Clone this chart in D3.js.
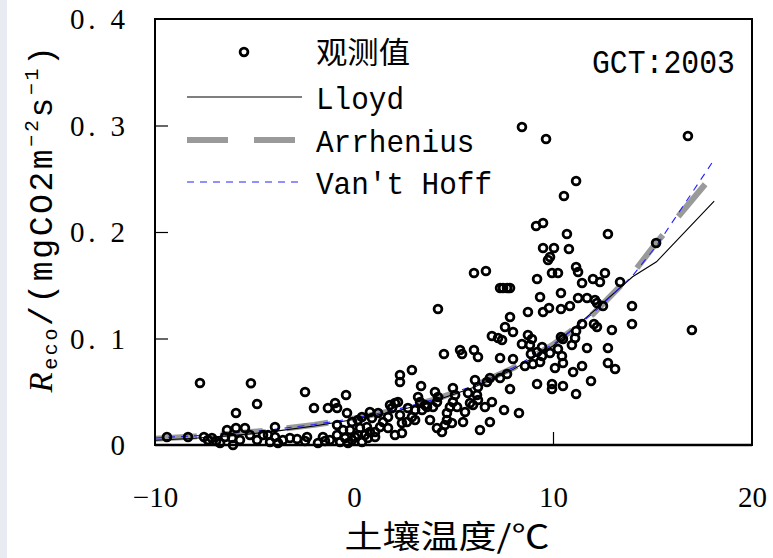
<!DOCTYPE html>
<html>
<head>
<meta charset="utf-8">
<script src="https://cdn.jsdelivr.net/npm/d3@7"></script>
<style>
  html, body { margin: 0; padding: 0; background: #fff; }
  svg { display: block; }
</style>
</head>
<body>
<div id="chart"></div>
<script>
// Soil temperature (°C) and observed ecosystem respiration, GCT 2003
const obsT = [
  -9.40, -8.34, -7.74, -7.54, -7.34, -7.14, -6.93, -6.73, -6.48, -6.38, -6.13, -6.08, -5.93, -5.93, -5.73, -5.48, -5.23, -5.18, -4.87, -4.87, -4.57,
  -4.32, -4.22, -3.97, -3.97, -3.82, -3.57, -3.22, -2.86, -2.46, -2.46, -2.36, -2.01, -1.81, -1.56, -1.46, -1.31, -1.21, -0.95, -0.85, -0.85, -0.85,
  -0.70, -0.55, -0.45, -0.40, -0.35, -0.30, -0.20, -0.10, -0.10, 0.05, 0.20, 0.20, 0.30, 0.40, 0.40, 0.55, 0.65, 0.70, 0.80, 0.80, 0.90,
  1.06, 1.06, 1.21, 1.31, 1.46, 1.71, 1.71, 1.81, 1.91, 2.06, 2.06, 2.21, 2.31, 2.31, 2.31, 2.41, 2.41, 2.66, 2.71, 2.91, 2.91, 3.07, 3.07,
  3.22, 3.32, 3.37, 3.42, 3.57, 3.67, 3.82, 3.97, 4.07, 4.17, 4.17, 4.22, 4.42, 4.57, 4.67, 4.67, 4.82, 4.92, 4.97, 4.97, 5.08, 5.18, 5.48,
  5.58, 5.73, 5.83, 5.98, 6.08, 6.18, 6.23, 6.23, 6.33, 6.58, 6.68, 6.83, 6.83, 6.93,
  4.22, 4.52, 5.33, 5.43, 6.03, 6.23, 6.03, 6.63, 6.93, 7.24, 7.34, 7.49, 7.69, 7.84, 7.44, 7.34, 7.99, 7.84, 7.59, 7.99, 8.44, 8.74, 8.94,
  8.84, 9.45, 9.20, 9.45, 8.89, 9.85, 10.25, 8.59, 8.99, 9.35, 7.69, 7.34, 7.84, 7.54, 8.29, 9.20, 9.95, 9.95, 8.74, 9.50, 9.80, 10.40, 10.85,
  9.35, 10.40, 9.20, 9.50, 10.05, 9.85, 9.75, 9.95, 10.25, 8.44, 9.65, 9.15, 9.50, 10.70, 10.80, 11.16, 10.55, 10.40, 10.50, 10.10, 10.50,
  10.45, 10.50,
  11.16, 11.26, 11.46, 12.01, 12.36, 12.61, 13.37, 11.26, 11.71, 12.11, 12.21, 12.51, 11.46, 12.06, 12.21, 12.96, 13.97, 13.97, 16.98, 11.16,
  11.11, 10.95, 11.71, 12.76, 11.01, 11.46, 11.91, 12.76, 13.12, 11.16, 12.76, 15.18, 16.78
];
const obsR = [
  0.0075, 0.0075, 0.0582, 0.0075, 0.0047, 0.0066, 0.0038, 0.0019, 0.0075, 0.0141, 0.0066, 0.0000, 0.0300, 0.0160, 0.0047, 0.0160, 0.0094, 0.0580, 0.0385, 0.0047, 0.0094,
  0.0094, 0.0028, 0.0169, 0.0075, 0.0019, 0.0047, 0.0066, 0.0056, 0.0498, 0.0038, 0.0075, 0.0347, 0.0019, 0.0075, 0.0038, 0.0347, 0.0047, 0.0394, 0.0347, 0.0188, 0.0094,
  0.0028, 0.0141, 0.0066, 0.0470, 0.0300, 0.0019, 0.0141, 0.0216, 0.0047, 0.0075, 0.0235, 0.0094, 0.0160, 0.0263, 0.0028, 0.0094, 0.0169, 0.0066, 0.0310, 0.0122, 0.0254,
  0.0122, 0.0075, 0.0300, 0.0169, 0.0216, 0.0263, 0.0160, 0.0376, 0.0347, 0.0394, 0.0094, 0.0404, 0.0657, 0.0592, 0.0282, 0.0207, 0.0113, 0.0216, 0.0347, 0.0704, 0.0263, 0.0329, 0.0235,
  0.0451, 0.0404, 0.0554, 0.0329, 0.0376, 0.0357, 0.0235, 0.0357, 0.0498, 0.0404, 0.0160, 0.0451, 0.0122, 0.0188, 0.0300, 0.0235, 0.0357, 0.0207, 0.0535, 0.0404, 0.0470, 0.0357, 0.0216,
  0.0310, 0.0488, 0.0394, 0.0376, 0.0610, 0.0470, 0.0545, 0.0423, 0.0141, 0.0357, 0.0592, 0.0629, 0.0216, 0.0404,
  0.1277, 0.0854, 0.0892, 0.0854, 0.0892, 0.0826, 0.1615, 0.1634, 0.1023, 0.1005, 0.1474, 0.1474, 0.1474, 0.1474, 0.0986, 0.0817, 0.0808, 0.1202, 0.1108, 0.1061, 0.0948, 0.1033, 0.0995,
  0.0939, 0.0920, 0.0873, 0.0836, 0.0854, 0.0864, 0.0901, 0.0742, 0.0761, 0.0779, 0.0667, 0.0629, 0.0526, 0.0329, 0.0300, 0.0573, 0.0573, 0.0526, 0.1249, 0.1249, 0.1286, 0.1277, 0.1305,
  0.1390, 0.1427, 0.1559, 0.1850, 0.1850, 0.1765, 0.1737, 0.1615, 0.1615, 0.2986, 0.2873, 0.2056, 0.2085, 0.1981, 0.1840, 0.2479, 0.2338, 0.1014, 0.0995, 0.0723, 0.0770,
  0.0836, 0.0554,
  0.1671, 0.1624, 0.1521, 0.1559, 0.1531, 0.1615, 0.1531, 0.1380, 0.1380, 0.1362, 0.1333, 0.1305, 0.1136, 0.1136, 0.1108, 0.1080, 0.1305, 0.1136, 0.1080, 0.1070,
  0.1005, 0.0939, 0.0911, 0.0911, 0.0685, 0.0742, 0.0601, 0.0770, 0.0714, 0.0479, 0.1981, 0.1897, 0.2902
];

// Fitted model curves, evaluated at these soil temperatures
const curveT    = [-10, -8, -6, -4, -2, 0, 2, 4, 6, 8, 10, 12, 14, 15.2, 18.1];
const lloyd     = [0.0045, 0.0063, 0.0090, 0.0128, 0.0178, 0.0240, 0.0312, 0.0410, 0.0540, 0.0710, 0.0930, 0.1250, 0.1580, 0.1720, 0.2290];
const arrhenius = [0.0058, 0.0080, 0.0108, 0.0143, 0.0189, 0.0248, 0.0324, 0.0424, 0.0553, 0.0722, 0.0942, 0.1228, 0.1610, 0.1900, 0.2550];
const vantHoff  = [0.0066, 0.0086, 0.0113, 0.0147, 0.0192, 0.0250, 0.0326, 0.0426, 0.0556, 0.0725, 0.0945, 0.1234, 0.1590, 0.1870, 0.2680];

const xTicks = [-10, 0, 10, 20];
const yTicks = [0, 0.1, 0.2, 0.3, 0.4];
const legendLabels = ["观测值", "Lloyd", "Arrhenius", "Van't Hoff"];
const siteLabel = "GCT:2003";
const xTitle = "土壤温度/℃";

const W = 773, H = 558;
const svg = d3.select("#chart").append("svg").attr("width", W).attr("height", H);
svg.append("rect").attr("width", W).attr("height", H).attr("fill", "#fff");
// faint strip along the left border
svg.append("rect").attr("x", 0).attr("y", 0).attr("width", 7).attr("height", H)
  .attr("fill", "#e9ebf2");

const x = d3.scaleLinear().domain([-10, 20]).range([155, 752]);
const y = d3.scaleLinear().domain([0, 0.4]).range([445, 19]);

const mono = "'Liberation Mono', 'DejaVu Sans Mono', monospace";
const serif = "'Liberation Serif', 'DejaVu Serif', serif";
const cjk = "'Noto Sans CJK SC', 'Noto Sans CJK JP', sans-serif";

// model curves
const lineGen = (vals) => d3.line().x((d, i) => x(curveT[i])).y(d => y(d))(vals);
const plot = svg.append("g");
plot.append("path").attr("d", lineGen(arrhenius)).attr("fill", "none")
  .attr("stroke", "#9a9a9a").attr("stroke-width", 6).attr("stroke-dasharray", "42,24");
plot.append("path").attr("d", lineGen(lloyd)).attr("fill", "none")
  .attr("stroke", "#000").attr("stroke-width", 1.1);
plot.append("path").attr("d", lineGen(vantHoff)).attr("fill", "none")
  .attr("stroke", "#2222ff").attr("stroke-width", 1.1).attr("stroke-dasharray", "7,6");

// observations
const R_PT = 3.9, SW_PT = 2.8;
plot.selectAll("circle.obs").data(obsT).join("circle").attr("class", "obs")
  .attr("cx", d => x(d)).attr("cy", (d, i) => y(obsR[i])).attr("r", R_PT)
  .attr("fill", "none").attr("stroke", "#000").attr("stroke-width", SW_PT);

// frame
svg.append("rect").attr("x", x(-10)).attr("y", y(0.4))
  .attr("width", x(20) - x(-10)).attr("height", y(0) - y(0.4))
  .attr("fill", "none").attr("stroke", "#000").attr("stroke-width", 2);
svg.append("line").attr("x1", x(-10)).attr("x2", x(20)).attr("y1", y(0)).attr("y2", y(0))
  .attr("stroke", "#000").attr("stroke-width", 2.6);

// axes: inward ticks, labels outside
const yAxis = svg.append("g").attr("transform", `translate(${x(-10)},0)`)
  .call(d3.axisLeft(y).tickValues(yTicks).tickSize(-13).tickPadding(30)
    .tickFormat(d => d === 0 ? "0" : "0. " + Math.round(d * 10)));
yAxis.select(".domain").remove();
yAxis.selectAll(".tick line").attr("stroke", "#000").attr("stroke-width", 1.2)
  .filter(d => d === 0 || d === 0.4).remove();
yAxis.selectAll(".tick text").attr("font-family", serif).attr("font-size", 29)
  .attr("fill", "#000").attr("dy", "0.34em")
  .each(function(d) { if (d !== 0) d3.select(this).attr("textLength", 55).attr("lengthAdjust", "spacing"); });

const xAxis = svg.append("g").attr("transform", `translate(0,${y(0)})`)
  .call(d3.axisBottom(x).tickValues(xTicks).tickSize(-13).tickPadding(62)
    .tickFormat(d => d < 0 ? "−" + Math.abs(d) : String(d)));
xAxis.select(".domain").remove();
xAxis.selectAll(".tick line").attr("stroke", "#000").attr("stroke-width", 1.2)
  .filter(d => d === -10 || d === 20).remove();
xAxis.selectAll(".tick text").attr("font-family", serif).attr("font-size", 29)
  .attr("fill", "#000").attr("dy", "0");

// axis titles
svg.append("text").attr("x", 447).attr("y", 548).attr("text-anchor", "middle")
  .attr("font-family", cjk).attr("font-size", 31.5).attr("fill", "#000")
  .attr("textLength", 205).attr("lengthAdjust", "spacingAndGlyphs").text(xTitle);

const yt = svg.append("text").attr("transform", "translate(52,218) rotate(-90)")
  .attr("text-anchor", "middle").attr("font-family", mono).attr("font-size", 33)
  .attr("letter-spacing", 2.6).attr("fill", "#000");
yt.append("tspan").attr("font-family", serif).attr("font-style", "italic").text("R");
yt.append("tspan").attr("font-size", 20).attr("dy", 5).text("eco");
yt.append("tspan").attr("dy", -5).text("/(mgCO2m");
yt.append("tspan").attr("font-size", 20).attr("dy", -14).text("−2");
yt.append("tspan").attr("dy", 14).text("s");
yt.append("tspan").attr("font-size", 20).attr("dy", -14).text("−1");
yt.append("tspan").attr("dy", 14).text(")");

// legend
const lg = svg.append("g");
const rowY = [52, 97, 140, 182];
lg.append("circle").attr("cx", 244).attr("cy", rowY[0]).attr("r", R_PT)
  .attr("fill", "none").attr("stroke", "#000").attr("stroke-width", SW_PT);
lg.append("line").attr("x1", 187).attr("x2", 302).attr("y1", rowY[1]).attr("y2", rowY[1])
  .attr("stroke", "#000").attr("stroke-width", 1.1);
lg.append("line").attr("x1", 187).attr("x2", 302).attr("y1", rowY[2]).attr("y2", rowY[2])
  .attr("stroke", "#9a9a9a").attr("stroke-width", 6).attr("stroke-dasharray", "41,26");
lg.append("line").attr("x1", 187).attr("x2", 302).attr("y1", rowY[3]).attr("y2", rowY[3])
  .attr("stroke", "#2222ff").attr("stroke-width", 1.1).attr("stroke-dasharray", "7,6");

lg.append("text").attr("x", 316).attr("y", rowY[0] + 11).attr("font-family", cjk)
  .attr("font-size", 30).attr("fill", "#000").attr("textLength", 94)
  .attr("lengthAdjust", "spacingAndGlyphs").text(legendLabels[0]);
legendLabels.slice(1).forEach((t, i) => {
  lg.append("text").attr("x", 316).attr("y", rowY[i + 1] + 12).attr("font-family", mono)
    .attr("font-size", 32).attr("fill", "#000")
    .attr("textLength", t.length * 17.6).attr("lengthAdjust", "spacingAndGlyphs").text(t);
});
svg.append("text").attr("x", 592).attr("y", 73).attr("font-family", mono)
  .attr("font-size", 33).attr("fill", "#000")
  .attr("textLength", 143).attr("lengthAdjust", "spacingAndGlyphs").text(siteLabel);
</script>
</body>
</html>
